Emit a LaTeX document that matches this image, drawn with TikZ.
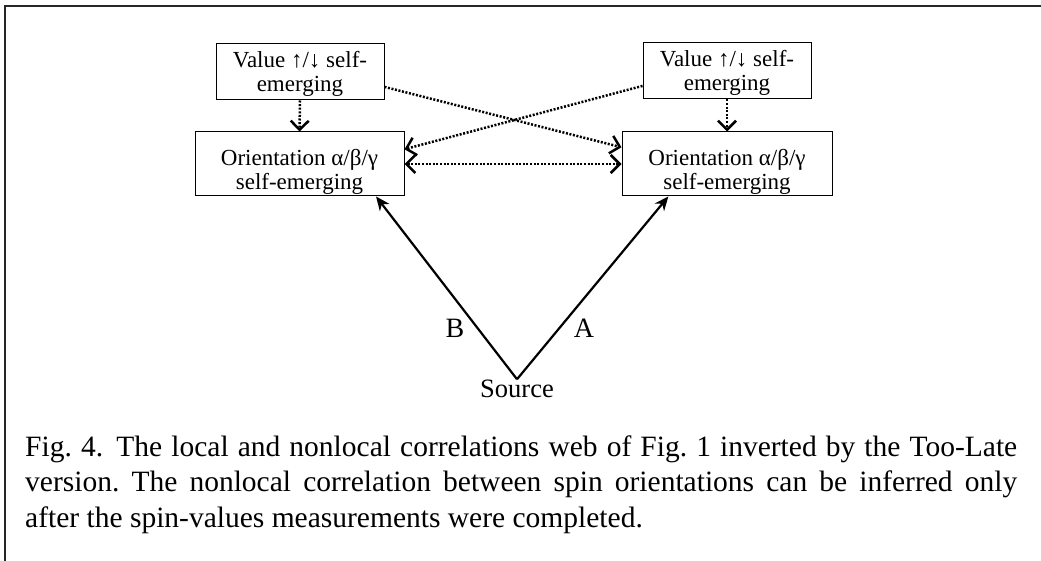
\documentclass[tikz,border=0pt]{standalone}
\usepackage{fontspec}
\setmainfont{Liberation Serif}
\usetikzlibrary{arrows.meta}
\frenchspacing
\tikzset{
  box/.style={draw, line width=1pt, inner xsep=0pt, inner ysep=0pt, align=center,
    font=\fontsize{23}{24}\selectfont},
  dotarrow/.style={line width=2.5pt, dash pattern=on 2pt off 1.6pt,
    -{Straight Barb[length=9pt,width=18pt]}},
  dotboth/.style={line width=2.5pt, dash pattern=on 2pt off 1.6pt,
    {Straight Barb[length=9pt,width=18pt]}-{Straight Barb[length=9pt,width=18pt]}},
  solidarrow/.style={line width=2.2pt, -{Stealth[length=14pt,width=12pt,inset=4.5pt]}},
  lab/.style={inner sep=0pt, anchor=base, font=\fontsize{28}{30}\selectfont},
  frame/.style={line width=1.5pt, draw=black!85}
}
\begin{document}
\begin{tikzpicture}[x=1pt,y=-1pt]
\useasboundingbox (0,0) rectangle (1041,561);
\draw[frame] (5,561) -- (5,6) -- (1041,6);

\node[box, minimum width=168pt, text height=48pt, text depth=8pt] (vl) at (300,72) {Value ↑/↓ self-\\emerging};
\node[box, minimum width=168pt, text height=48pt, text depth=8pt] (vr) at (727,71) {Value ↑/↓ self-\\emerging};
\node[box, minimum width=209pt, text height=58pt, text depth=6pt] (ol) at (299.5,164) {Orientation α/β/γ\\self-emerging};
\node[box, minimum width=210pt, text height=58pt, text depth=6pt] (or) at (727,164) {Orientation α/β/γ\\self-emerging};

\node[inner sep=0pt, anchor=base, font=\fontsize{26.5}{30}\selectfont] (src) at (517,397) {Source};
\node[lab] (lb) at (455,337) {B};
\node[lab] (la) at (584,337) {A};

\draw[solidarrow] (src.north) -- (ol.-23.8);
\draw[solidarrow] (src.north) -- (or.-151.5);

\draw[dotarrow] (vl.south) -- (ol.north);
\draw[dotarrow] (vr.south) -- (or.north);
\draw[dotarrow] (vl.-10.8) -- (or.171.3);
\draw[dotarrow] (vr.190.1) -- (ol.8.7);
\draw[dotboth] (ol.east) -- (or.west);

\node[anchor=base west, inner sep=0pt, text width=992pt, align=justify,
  font=\fontsize{29.5}{35.5}\selectfont] (cap) at (25,456)
  {Fig. 4.\hspace{0.45em}The local and nonlocal correlations web of Fig. 1 inverted by the Too-Late\linebreak
   version. The nonlocal correlation between spin orientations can be inferred only\linebreak
   after the spin-values measurements were completed.};
\end{tikzpicture}
\end{document}
